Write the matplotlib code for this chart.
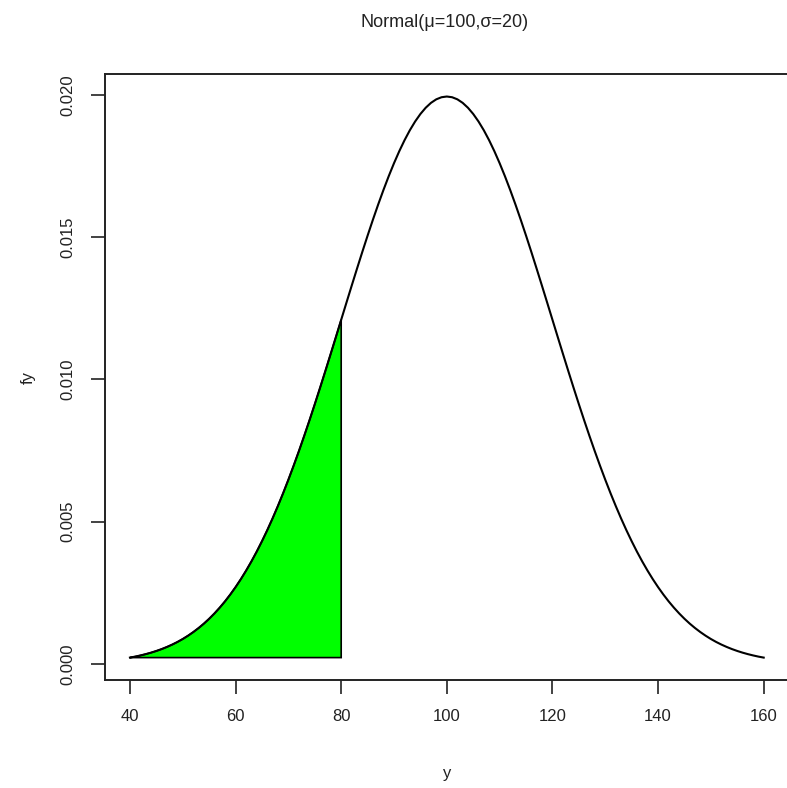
import matplotlib
matplotlib.use("Agg")
import matplotlib.pyplot as plt

plt.rcParams['font.family'] = ['Liberation Sans', 'DejaVu Sans']

# y grid 40 .. 160, density values
y_vals = list(range(40, 161))
# left half, y = 40 .. 99
half = [0.000222, 0.000257, 0.000298, 0.000344, 0.000396, 0.000455, 0.000521, 0.000596,
        0.000679, 0.000772, 0.000876, 0.000992, 0.001120, 0.001261, 0.001416, 0.001587,
        0.001774, 0.001978, 0.002199, 0.002440, 0.002700, 0.002980, 0.003281, 0.003603,
        0.003947, 0.004314, 0.004702, 0.005113, 0.005546, 0.006000, 0.006476, 0.006972,
        0.007486, 0.008019, 0.008568, 0.009132, 0.009709, 0.010297, 0.010893, 0.011494,
        0.012099, 0.012703, 0.013304, 0.013899, 0.014485, 0.015057, 0.015613, 0.016149,
        0.016661, 0.017147, 0.017603, 0.018026, 0.018413, 0.018762, 0.019069, 0.019333,
        0.019552, 0.019724, 0.019848, 0.019922]
peak = 0.019947
fy = half + [peak] + half[::-1]

shade_to = 80
x_ticks = [40, 60, 80, 100, 120, 140, 160]
y_ticks = [0.000, 0.005, 0.010, 0.015, 0.020]

fig = plt.figure(figsize=(7.87, 7.88), dpi=100)
ax = fig.add_axes([0.1329, 0.137, 0.8697, 0.769])

ax.plot(y_vals, fy, color='black', lw=1.5)

# shaded lower tail, closed on the level of the first point
xs = [v for v in y_vals if v <= shade_to]
ys = fy[:len(xs)]
px = xs + [shade_to, y_vals[0]]
py = ys + [fy[0], fy[0]]
ax.fill(px, py, facecolor='#00ff00', edgecolor='black', lw=1.2)

rng = max(fy) - min(fy)
ax.set_xlim(40 - 0.04 * 120, 160 + 0.04 * 120)
ax.set_ylim(min(fy) - 0.04 * rng, max(fy) + 0.04 * rng)

ax.set_xticks(x_ticks)
ax.set_xticklabels([str(v) for v in x_ticks])
ax.set_yticks(y_ticks)
ax.set_yticklabels(['%.3f' % v for v in y_ticks], rotation=90, va='center')
ax.tick_params(labelsize=12, length=10, width=1.2, colors='#222222', pad=11)

for s in ax.spines.values():
    s.set_linewidth(1.4)
    s.set_color('#222222')

ax.set_xlabel('y', fontsize=12, labelpad=30, color='#222222')
ax.set_ylabel('fy', fontsize=12, labelpad=18, color='#222222')
fig.text(0.565, 0.972, 'Normal(μ=100,σ=20)', ha='center', va='center', fontsize=13, color='#222222')

fig.savefig('out.png', dpi=100)
